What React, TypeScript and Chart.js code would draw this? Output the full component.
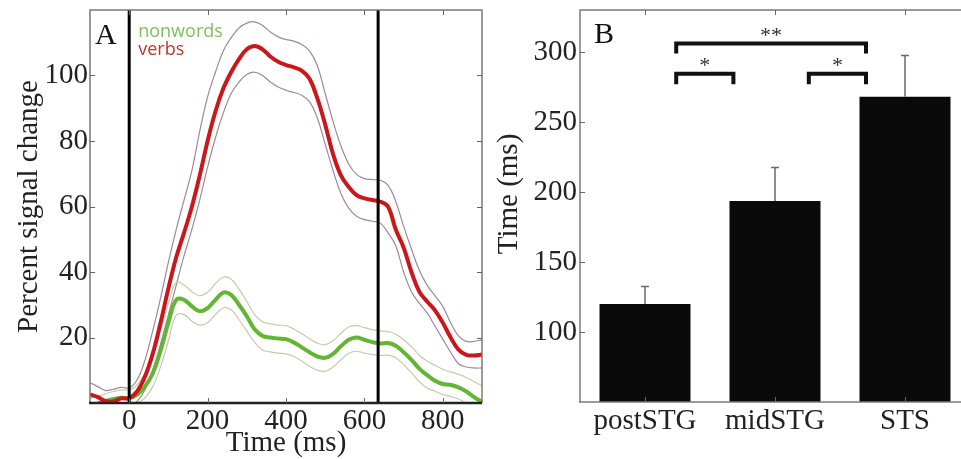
import { useEffect, useRef } from 'react';
import { Chart, registerables } from 'chart.js';
Chart.register(...registerables);

// ---------- Panel A data ----------
const TIME_MS = [-100, -80, -60, -40, -20, 0, 20, 40, 60, 80, 100, 120, 140, 160, 180, 200, 220, 240, 260, 280, 300, 320, 340, 360, 380, 400, 420, 440, 460, 480, 500, 520, 540, 560, 580, 600, 620, 640, 660, 680, 700, 720, 740, 760, 780, 800, 820, 840, 860, 880, 900];
const VERBS_MEAN = [2.6, 1.8, 0.6, 0.5, 1.4, 1.5, 3.5, 8, 15, 24.5, 35, 44.5, 52, 60, 69.5, 80, 89, 96, 101, 105, 108, 109, 108, 105.8, 104.2, 103.2, 102.5, 101.5, 99, 93, 85, 76, 69.5, 66, 63.5, 62.5, 62, 61.5, 60, 53, 47.5, 40, 34, 31, 28.3, 24.5, 20, 16.3, 14.7, 14.5, 14.8];
const VERBS_UPPER = [6.2, 5, 3.8, 4.2, 4.8, 4.6, 7, 13, 22, 32, 43, 53, 62, 71, 83, 93.5, 101, 107.5, 111.5, 114.5, 116, 116.4, 115.3, 113.3, 111.8, 111, 110.5, 109.5, 107.5, 103, 94.5, 86, 78.5, 73, 69.8, 68.5, 68.2, 68, 66.5, 61.5, 54, 47, 40.5, 36, 32.8, 29.5, 24.5, 20.5, 18.8, 18.8, 19.3];
const VERBS_LOWER = [-0.5, -1, -2, -2, -1.5, -1, 0.5, 4, 10, 18, 27, 36, 45, 53, 62, 72, 81, 88.5, 94.5, 98, 100.3, 101, 100, 98, 96.5, 95.5, 94.8, 94, 92, 87, 79, 71, 64, 59.5, 57, 56, 55.5, 55, 52, 48, 40, 34, 30.5, 27.5, 23.5, 19.5, 15.5, 12, 11, 10.7, 10.7];
const NONWORDS_MEAN = [-1, -0.2, 0.6, 1.2, 1.6, 1.5, 2.5, 5, 9, 16, 24.5, 31.5, 31.5, 29.5, 28, 29, 31.5, 33.7, 33, 30, 26.5, 22.5, 20.5, 20, 19.7, 19.5, 18.5, 17, 15.5, 14.2, 13.8, 15, 17.3, 19.3, 20, 19.3, 18.6, 18.2, 18.3, 17.5, 15.5, 13.2, 10.5, 8.5, 6.8, 5.8, 5.5, 4.8, 3.5, 1.8, 0.3];
const NONWORDS_UPPER = [1.5, 2, 2.8, 3.5, 4, 4, 5.5, 9, 14, 22, 30.5, 36.8, 36, 34, 32.8, 33.8, 36.5, 38.4, 37.8, 34.8, 31, 27, 24.8, 24.2, 23.8, 23.6, 22.6, 21.2, 19.6, 18.3, 17.8, 19, 21.3, 23.2, 23.6, 23, 22.4, 22, 21.8, 21, 19.3, 17.2, 14.6, 12.8, 11.5, 10.3, 9.5, 8.8, 7.8, 6.5, 5.3];
const NONWORDS_LOWER = [-4, -3.5, -2.5, -1.5, -0.8, -0.8, 0, 1.5, 5, 11, 19, 26.8, 27, 25, 23.8, 24.5, 27, 29, 28.5, 25.5, 22, 18.5, 16.2, 15.6, 15.2, 15, 14.2, 12.8, 11.2, 10, 9.7, 11, 13.2, 15.2, 15.8, 15.2, 14.8, 14.5, 14.6, 13.8, 11.8, 9.2, 6.5, 4.6, 3.6, 2.6, 2, 1.2, 0, -1.5, -3];
const EVENT_LINES_MS = [0, 635];
const A_X_TICKS = [0, 200, 400, 600, 800];
const A_Y_TICKS = [20, 40, 60, 80, 100];

// ---------- Panel B data ----------
const REGIONS = ['postSTG', 'midSTG', 'STS'];
const LATENCY_MS = [120, 193.5, 268];
const LATENCY_ERR = [12.5, 24, 29.5];
const B_Y_TICKS = [100, 150, 200, 250, 300];
const BRACKET_FROM = [0.24, 0.24, 1.26];
const BRACKET_TO = [1.7, 0.68, 1.7];
const BRACKET_Y = [306, 284.5, 284.5];
const BRACKET_LEG = [7, 7.5, 7.5];
const BRACKET_LABEL = ['**', '*', '*'];

const SERIF = "'Liberation Serif', 'Times New Roman', serif";
const SANS = "'Open Sans', 'DejaVu Sans', sans-serif";

const framePlugin = (bottomColor: string, bottomWidth: number) => ({
  id: 'frame',
  afterDatasetsDraw(chart: any) {
    const { ctx, chartArea } = chart;
    const { left, right, top, bottom } = chartArea;
    const xs = chart.scales.x;
    const ys = chart.scales.y;
    ctx.save();
    ctx.strokeStyle = '#7a7a7a';
    ctx.lineWidth = 1.5;
    ctx.beginPath();
    ctx.moveTo(left, bottom);
    ctx.lineTo(left, top);
    ctx.lineTo(right, top);
    ctx.lineTo(right, bottom);
    ctx.stroke();
    ctx.strokeStyle = bottomColor;
    ctx.lineWidth = bottomWidth;
    ctx.beginPath();
    ctx.moveTo(left - 1, bottom);
    ctx.lineTo(right, bottom);
    ctx.stroke();
    ctx.strokeStyle = '#666';
    ctx.lineWidth = 1;
    const tl = 5;
    ctx.beginPath();
    xs.ticks.forEach((t: any) => {
      const px = Math.round(xs.getPixelForValue(t.value)) + 0.5;
      ctx.moveTo(px, top);
      ctx.lineTo(px, top + tl);
      ctx.moveTo(px, bottom);
      ctx.lineTo(px, bottom - tl);
    });
    ys.ticks.forEach((t: any) => {
      const py = Math.round(ys.getPixelForValue(t.value)) + 0.5;
      ctx.moveTo(left, py);
      ctx.lineTo(left + tl, py);
      ctx.moveTo(right, py);
      ctx.lineTo(right - tl, py);
    });
    ctx.stroke();
    ctx.restore();
  },
});

const eventLinesPlugin = {
  id: 'eventLines',
  afterDatasetsDraw(chart: any) {
    const { ctx, chartArea } = chart;
    const xs = chart.scales.x;
    ctx.save();
    ctx.strokeStyle = '#000';
    ctx.lineWidth = 3;
    EVENT_LINES_MS.forEach((t) => {
      const px = xs.getPixelForValue(t);
      ctx.beginPath();
      ctx.moveTo(px, chartArea.top);
      ctx.lineTo(px, chartArea.bottom);
      ctx.stroke();
    });
    ctx.restore();
  },
};

const panelAText = {
  id: 'panelAText',
  afterDraw(chart: any) {
    const { ctx, chartArea } = chart;
    const xs = chart.scales.x;
    ctx.save();
    ctx.textBaseline = 'alphabetic';
    ctx.textAlign = 'left';
    ctx.fillStyle = '#111';
    ctx.font = `30px ${SERIF}`;
    ctx.fillText('A', chartArea.left + 5, chartArea.top + 34);
    const lx = xs.getPixelForValue(EVENT_LINES_MS[0]) + 9;
    ctx.font = `18px ${SANS}`;
    ctx.fillStyle = '#7fbf5a';
    ctx.fillText('nonwords', lx, chartArea.top + 26.5);
    ctx.fillStyle = '#b83a2a';
    ctx.fillText('verbs', lx, chartArea.top + 45);
    ctx.restore();
  },
};

const errorBarsPlugin = {
  id: 'errorBars',
  afterDatasetsDraw(chart: any) {
    const { ctx } = chart;
    const xs = chart.scales.x;
    const ys = chart.scales.y;
    ctx.save();
    ctx.strokeStyle = '#6a6a6a';
    ctx.lineWidth = 1.5;
    LATENCY_MS.forEach((v, i) => {
      const px = xs.getPixelForValue(i);
      const y0 = ys.getPixelForValue(v);
      const y1 = ys.getPixelForValue(v + LATENCY_ERR[i]);
      ctx.beginPath();
      ctx.moveTo(px, y0);
      ctx.lineTo(px, y1);
      ctx.moveTo(px - 4, y1);
      ctx.lineTo(px + 4, y1);
      ctx.stroke();
    });
    ctx.restore();
  },
};

const bracketsPlugin = {
  id: 'brackets',
  afterDatasetsDraw(chart: any) {
    const { ctx } = chart;
    const xs = chart.scales.x;
    const ys = chart.scales.y;
    ctx.save();
    ctx.strokeStyle = '#111';
    ctx.fillStyle = '#333';
    ctx.lineWidth = 4;
    ctx.lineJoin = 'miter';
    ctx.lineCap = 'butt';
    ctx.font = `22px ${SERIF}`;
    ctx.textAlign = 'center';
    ctx.textBaseline = 'middle';
    BRACKET_FROM.forEach((f, i) => {
      const x0 = xs.getPixelForValue(f);
      const x1 = xs.getPixelForValue(BRACKET_TO[i]);
      const y = ys.getPixelForValue(BRACKET_Y[i]);
      const yl = ys.getPixelForValue(BRACKET_Y[i] - BRACKET_LEG[i]);
      ctx.beginPath();
      ctx.moveTo(x0, yl);
      ctx.lineTo(x0, y);
      ctx.lineTo(x1, y);
      ctx.lineTo(x1, yl);
      ctx.stroke();
      ctx.fillText(BRACKET_LABEL[i], (x0 + x1) / 2, y - 7.5);
    });
    ctx.restore();
  },
};

const panelBText = {
  id: 'panelBText',
  afterDraw(chart: any) {
    const { ctx, chartArea } = chart;
    ctx.save();
    ctx.textBaseline = 'alphabetic';
    ctx.textAlign = 'left';
    ctx.fillStyle = '#111';
    ctx.font = `30px ${SERIF}`;
    ctx.fillText('B', chartArea.left + 14, chartArea.top + 33);
    // y-axis title
    ctx.translate(chartArea.left - 71, (chartArea.top + chartArea.bottom) / 2 - 12);
    ctx.rotate(-Math.PI / 2);
    ctx.textAlign = 'center';
    ctx.textBaseline = 'middle';
    ctx.fillStyle = '#222';
    ctx.font = `29px ${SERIF}`;
    ctx.fillText('Time (ms)', 0, 0);
    ctx.restore();
  },
};

const tickFont = { family: SERIF, size: 29 };
const titleFont = { family: SERIF, size: 29, lineHeight: 1.2 };

const fitY = (w: number) => (s: any) => {
  s.width = w;
  s.paddingTop = 0;
  s.paddingBottom = 0;
};
const fitX = (h: number) => (s: any) => {
  s.height = h;
  s.paddingLeft = 0;
  s.paddingRight = 0;
};

function PanelA() {
  const ref = useRef<HTMLCanvasElement>(null);
  useEffect(() => {
    const pts = (arr: number[]) => TIME_MS.map((t, i) => ({ x: t, y: arr[i] }));
    const line = (arr: number[], color: string, width: number) => ({
      data: pts(arr),
      borderColor: color,
      borderWidth: width,
      pointRadius: 0,
      tension: 0.4,
      fill: false,
    });
    const chart = new Chart(ref.current as HTMLCanvasElement, {
      type: 'line',
      data: {
        datasets: [
          line(VERBS_MEAN, '#c8181c', 4),
          line(NONWORDS_MEAN, '#63b534', 4),
          line(NONWORDS_UPPER, '#c3ccaa', 1.2),
          line(NONWORDS_LOWER, '#c3ccaa', 1.2),
          line(VERBS_UPPER, '#a08898', 1.2),
          line(VERBS_LOWER, '#a08898', 1.2),
        ] as any,
      },
      options: {
        animation: false,
        responsive: false,
        maintainAspectRatio: false,
        layout: { padding: { left: 0, right: 8, top: 10, bottom: 0 } },
        plugins: { legend: { display: false }, tooltip: { enabled: false } },
        scales: {
          x: {
            type: 'linear',
            min: -100,
            max: 900,
            afterBuildTicks: (s: any) => { s.ticks = A_X_TICKS.map((v) => ({ value: v })); },
            afterFit: fitX(56),
            grid: { display: false, drawTicks: false },
            border: { display: false },
            ticks: { font: tickFont, color: '#222', padding: 1, maxRotation: 0, autoSkip: false },
            title: { display: true, text: 'Time (ms)', font: titleFont, color: '#222', padding: { top: 0, bottom: -2 } },
          },
          y: {
            type: 'linear',
            min: 0,
            max: 120,
            afterBuildTicks: (s: any) => { s.ticks = A_Y_TICKS.map((v) => ({ value: v })); },
            afterFit: fitY(90),
            grid: { display: false, drawTicks: false },
            border: { display: false },
            ticks: { font: tickFont, color: '#222', padding: 2, autoSkip: false },
            title: { display: true, text: 'Percent signal change', font: titleFont, color: '#222', padding: { top: 12, bottom: 0 } },
          },
        },
      } as any,
      plugins: [eventLinesPlugin, framePlugin('#222', 2.5), panelAText] as any,
    });
    return () => chart.destroy();
  }, []);
  return <canvas ref={ref} width={490} height={459} style={{ position: 'absolute', left: 0, top: 0, width: 490, height: 459 }} />;
}

function PanelB() {
  const ref = useRef<HTMLCanvasElement>(null);
  useEffect(() => {
    const chart = new Chart(ref.current as HTMLCanvasElement, {
      type: 'bar',
      data: {
        labels: REGIONS,
        datasets: [
          {
            data: LATENCY_MS,
            backgroundColor: '#0a0a0a',
            borderWidth: 0,
            barPercentage: 0.7,
            categoryPercentage: 1,
          },
        ],
      },
      options: {
        animation: false,
        responsive: false,
        maintainAspectRatio: false,
        layout: { padding: { left: 0, right: 10, top: 10, bottom: 0 } },
        plugins: { legend: { display: false }, tooltip: { enabled: false } },
        scales: {
          x: {
            type: 'category',
            offset: true,
            afterFit: fitX(57),
            grid: { display: false, drawTicks: false },
            border: { display: false },
            ticks: { font: tickFont, color: '#222', padding: 2, maxRotation: 0, autoSkip: false },
          },
          y: {
            type: 'linear',
            min: 50,
            max: 330,
            afterBuildTicks: (s: any) => { s.ticks = B_Y_TICKS.map((v) => ({ value: v })); },
            afterFit: fitY(90),
            grid: { display: false, drawTicks: false },
            border: { display: false },
            ticks: { font: tickFont, color: '#222', padding: 3, autoSkip: false },
          },
        },
      } as any,
      plugins: [errorBarsPlugin, bracketsPlugin, framePlugin('#7a7a7a', 1.5), panelBText] as any,
    });
    return () => chart.destroy();
  }, []);
  return <canvas ref={ref} width={490} height={459} style={{ position: 'absolute', left: 490, top: 0, width: 490, height: 459 }} />;
}

export default function App() {
  return (
    <div style={{ position: 'fixed', left: 0, top: 0, width: 961, height: 459, overflow: 'hidden', background: '#fff' }}>
      <PanelA />
      <PanelB />
    </div>
  );
}
